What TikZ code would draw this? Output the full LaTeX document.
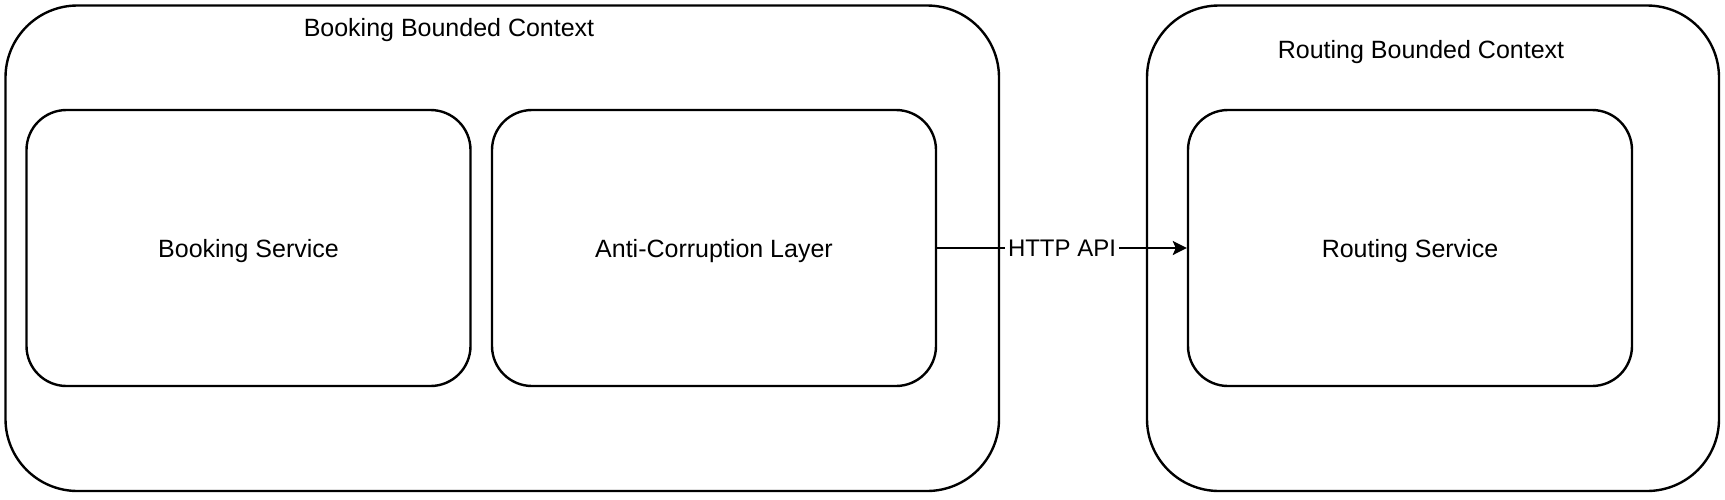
\documentclass[tikz,border=0pt]{standalone}
\usepackage{fontspec}
\setmainfont{Liberation Sans}
\usetikzlibrary{arrows.meta}
\begin{document}
\begin{tikzpicture}[x=0.5pt,y=-0.5pt,
  ctxbox/.style={draw=black,line width=1.2pt,rounded corners=36pt},
  svcbox/.style={draw=black,line width=1.2pt,rounded corners=20pt,minimum width=222pt,minimum height=138pt,inner sep=0pt,text height=9pt,text depth=0pt,font=\fontsize{12.5pt}{15pt}\selectfont},
  lbl/.style={font=\fontsize{12.5pt}{15pt}\selectfont,inner sep=1pt,text height=9pt,text depth=0pt}
]
\useasboundingbox (0,0) rectangle (1725,499);
\fill[white] (0,0) rectangle (1725,499);
% contexts
\draw[ctxbox] (5.5,5.5) rectangle (999,491);
\draw[ctxbox] (1147,5.5) rectangle (1719,491);
\node[lbl] (bt) at (449,27) {Booking Bounded Context};
\node[lbl] (rt) at (1421,49) {Routing Bounded Context};
% services
\node[svcbox] (bs) at (248.5,248) {Booking Service};
\node[svcbox] (acl) at (714,248) {Anti-Corruption Layer};
\node[svcbox] (rs) at (1410,248) {Routing Service};
% connector
\draw[line width=1.2pt,-{Stealth[length=7pt,width=7pt,inset=1.5pt]}] (acl.east) -- node[lbl,fill=white,inner sep=1.5pt,font=\fontsize{12pt}{14pt}\selectfont,text height=8.6pt,text depth=0pt] {HTTP API} (rs.west);
\end{tikzpicture}
\end{document}
